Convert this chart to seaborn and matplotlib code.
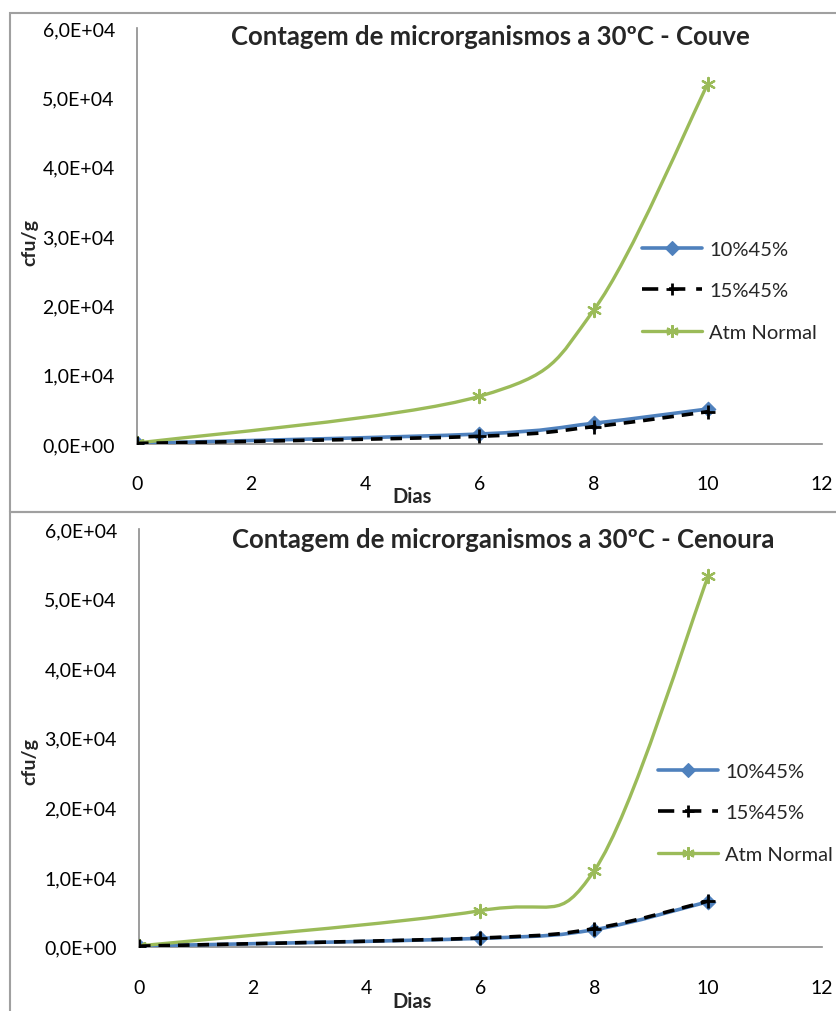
import numpy as np
import pandas as pd
import matplotlib
matplotlib.use("Agg")
import matplotlib.pyplot as plt
import seaborn as sns
from matplotlib.path import Path
from matplotlib.patches import PathPatch, Rectangle
from matplotlib.lines import Line2D
from matplotlib.ticker import FuncFormatter

# ---- data ----
dias = [0, 6, 8, 10]
series_names = ["10%45%", "15%45%", "Atm Normal"]

couve_10 = [100, 1440, 2990, 5050]
couve_15 = [80, 1110, 2500, 4660]
couve_atm = [120, 6880, 19300, 51950]

cenoura_10 = [100, 1200, 2450, 6470]
cenoura_15 = [80, 1250, 2600, 6550]
cenoura_atm = [120, 5180, 10940, 53200]

titles = ["Contagem de microrganismos a 30ºC - Couve",
          "Contagem de microrganismos a 30ºC - Cenoura"]
x_ticks = [0, 2, 4, 6, 8, 10, 12]
y_ticks = [0, 10000, 20000, 30000, 40000, 50000, 60000]

# ---- style ----
sns.set_theme(style="white")
plt.rcParams["font.family"] = ["Lato", "DejaVu Sans"]

colors = {"10%45%": "#4F81BD", "15%45%": "#000000", "Atm Normal": "#9BBB59"}
markers = {"10%45%": "D", "15%45%": "+", "Atm Normal": (6, 2, 0)}
lstyles = {"10%45%": "-", "15%45%": (0, (3.2, 2.2)), "Atm Normal": "-"}
widths = {"10%45%": 2.6, "15%45%": 2.6, "Atm Normal": 2.4}
zorders = {"10%45%": 3, "15%45%": 4, "Atm Normal": 3}
msizes = {"10%45%": 55, "15%45%": 90, "Atm Normal": 90}
mews = {"10%45%": 0.8, "15%45%": 2.0, "Atm Normal": 1.6}

fig = plt.figure(figsize=(8.37, 10.12), dpi=100)

# panel borders
fig.patches.append(Rectangle((10 / 837, 1 - 513 / 1012), 835 / 837, 499 / 1012,
                             transform=fig.transFigure, fill=False,
                             edgecolor="#A0A0A0", lw=1.5, zorder=0))
fig.patches.append(Rectangle((10 / 837, -0.01), 835 / 837, 1 - 513 / 1012 + 0.01,
                             transform=fig.transFigure, fill=False,
                             edgecolor="#A0A0A0", lw=1.5, zorder=0))


def smooth_path(xs, ys):
    """Excel-like smoothed line built as cubic Bezier path through the data points."""
    pts = np.column_stack([xs, ys]).astype(float)
    n = len(pts)
    verts = [pts[0]]
    codes = [Path.MOVETO]
    for i in range(n - 1):
        p0 = pts[i - 1] if i > 0 else pts[i]
        p1 = pts[i]
        p2 = pts[i + 1]
        p3 = pts[i + 2] if i + 2 < n else pts[i + 1]
        c1 = p1 + (p2 - p0) / 6.0
        c2 = p2 - (p3 - p1) / 6.0
        verts += [c1, c2, p2]
        codes += [Path.CURVE4] * 3
    return Path(verts, codes)


def fmt(v, pos):
    if v == 0:
        return "0,0E+00"
    e = int(np.floor(np.log10(abs(v))))
    m = v / 10 ** e
    return f"{m:.1f}".replace(".", ",") + f"E+{e:02d}"


panels = [
    dict(rect=[137 / 837, 1 - 445 / 1012, 685 / 837, 416 / 1012],
         data=[couve_10, couve_15, couve_atm], title_xy=(490, 37),
         ylab_xy=(30, 243), xlab_xy=(412, 497), leg_xy=(642, 242), xpad=22),
    dict(rect=[139 / 837, 1 - 947.7 / 1012, 683 / 837, 417.7 / 1012],
         data=[cenoura_10, cenoura_15, cenoura_atm], title_xy=(503, 540),
         ylab_xy=(30, 762), xlab_xy=(412, 1002), leg_xy=(658, 764), xpad=23),
]

for k, p in enumerate(panels):
    ax = fig.add_axes(p["rect"])
    rows = []
    for name, vals in zip(series_names, p["data"]):
        for d, v in zip(dias, vals):
            rows.append({"Dias": d, "cfu/g": v, "serie": name})
    df = pd.DataFrame(rows)

    for name in series_names:
        sub = df[df["serie"] == name]
        path = smooth_path(sub["Dias"].values, sub["cfu/g"].values)
        ax.add_patch(PathPatch(path, facecolor="none", edgecolor=colors[name],
                               lw=widths[name], linestyle=lstyles[name],
                               zorder=zorders[name], capstyle="butt"))
        sns.scatterplot(data=sub, x="Dias", y="cfu/g", ax=ax,
                        marker=markers[name],
                        color=colors[name],
                        edgecolor=colors[name],
                        s=msizes[name],
                        linewidth=mews[name],
                        zorder=zorders[name] + 0.5, legend=False)

    ax.set_xlim(0, 12)
    ax.set_ylim(0, 60000)
    ax.set_xticks(x_ticks)
    ax.set_yticks(y_ticks)
    ax.yaxis.set_major_formatter(FuncFormatter(fmt))
    ax.set_xlabel("")
    ax.set_ylabel("")
    for s in ["top", "right"]:
        ax.spines[s].set_visible(False)
    for s in ["left", "bottom"]:
        ax.spines[s].set_color("#8C8C8C")
        ax.spines[s].set_linewidth(1.2)
    ax.tick_params(axis="y", length=0, pad=16, labelsize=14, colors="#000000")
    ax.tick_params(axis="x", length=0, pad=p["xpad"], labelsize=14, colors="#000000")
    ax.patch.set_alpha(0)

    fig.text(p["title_xy"][0] / 837, 1 - p["title_xy"][1] / 1012, titles[k],
             ha="center", va="center", fontsize=18.5, fontweight="bold")
    fig.text(p["ylab_xy"][0] / 837, 1 - p["ylab_xy"][1] / 1012, "cfu/g",
             ha="center", va="center", rotation=90, fontsize=14, fontweight="bold")
    fig.text(p["xlab_xy"][0] / 837, 1 - p["xlab_xy"][1] / 1012, "Dias",
             ha="center", va="center", fontsize=14.5, fontweight="bold")

    handles = [Line2D([], [], color=colors[n], lw=widths[n],
                      linestyle=(0, (4.5, 3.0)) if n == "15%45%" else lstyles[n],
                      marker=markers[n],
                      markersize=9 if n != "10%45%" else 7,
                      markeredgewidth=mews[n],
                      markeredgecolor=colors[n], markerfacecolor=colors[n])
               for n in series_names]
    fig.legend(handles, series_names, loc="upper left",
               bbox_to_anchor=(p["leg_xy"][0] / 837, 1 - p["leg_xy"][1] / 1012),
               frameon=False, fontsize=14.5, handlelength=3.0, handletextpad=0.35,
               labelspacing=1.2, borderpad=0, borderaxespad=0)

fig.savefig("out.png", dpi=100)
